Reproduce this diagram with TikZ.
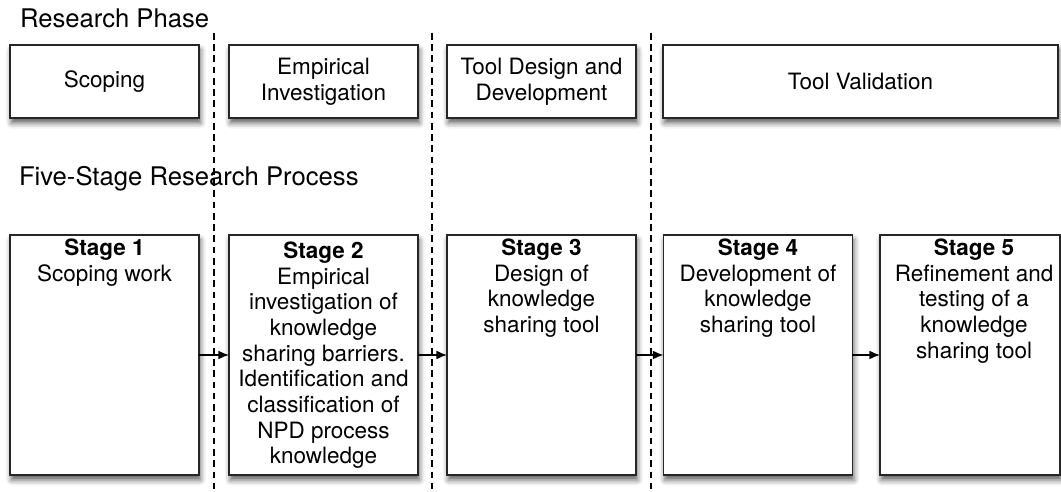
\documentclass[tikz,border=0pt]{standalone}
\usepackage{fontspec}
\setmainfont{TeX Gyre Heros}
\usetikzlibrary{shadows.blur,arrows.meta}

\begin{document}
\begin{tikzpicture}[x=0.02cm, y=-0.02cm,
  every node/.style={font=\fontsize{12.8}{14.6}\selectfont, outer sep=0pt},
  box/.style={draw=black!85, line width=0.9pt, fill=white, minimum width=3.78cm,
    blur shadow={shadow xshift=0.8pt, shadow yshift=-2.8pt, shadow blur radius=3.2pt, shadow opacity=65}},
  phasebox/.style={box, minimum height=1.46cm, align=center},
  stagebox/.style={box, minimum height=4.8cm},
  stagetext/.style={anchor=north, align=center, inner sep=0pt},
  heading/.style={anchor=base west, inner sep=0pt, font=\fontsize{14.6}{17}\selectfont},
  sep/.style={line width=0.9pt, dash pattern=on 3.8pt off 2.6pt},
  flow/.style={-{Latex[length=6pt,width=5pt]}, line width=0.8pt}]
\useasboundingbox (0,0) rectangle (1061,492);

\node[heading] (phasehead) at (20,28) {Research Phase};
\node[heading] (stagehead) at (19,186) {Five-Stage Research Process};

\node[phasebox] (scoping) at (104.5,81.5) {Scoping};
\node[phasebox] (empirical) at (323.5,81.5) {Empirical\\Investigation};
\node[phasebox] (design) at (541.5,81.5) {Tool Design and\\Development};
\node[phasebox, minimum width=7.9cm] (validation) at (860.5,81.5) {Tool Validation};

\node[stagebox] (s1) at (104.5,355) {};
\node[stagebox] (s2) at (323.5,355) {};
\node[stagebox] (s3) at (541.5,355) {};
\node[stagebox] (s4) at (758,355) {};
\node[stagebox, minimum width=3.6cm] (s5) at (970,355) {};

\node[stagetext] (t1) at (104.5,239) {\textbf{Stage 1}\\Scoping work};
\node[stagetext] (t2) at (323.5,242) {\textbf{Stage 2}\\Empirical\\investigation of\\knowledge\\sharing barriers.\\Identification and\\classification of\\NPD process\\knowledge};
\node[stagetext] (t3) at (541.5,239) {\textbf{Stage 3}\\Design of\\knowledge\\sharing tool};
\node[stagetext] (t4) at (758,239) {\textbf{Stage 4}\\Development of\\knowledge\\sharing tool};
\node[stagetext] (t5) at (974,239) {\textbf{Stage 5}\\Refinement and\\testing of a\\knowledge\\sharing tool};

\draw[sep] (214,33) -- (214,492);
\draw[sep] (432,33) -- (432,492);
\draw[sep] (651,33) -- (651,492);

\draw[flow] (s1) -- (s2);
\draw[flow] (s2) -- (s3);
\draw[flow] (s3) -- (s4);
\draw[flow] (s4) -- (s5);
\end{tikzpicture}
\end{document}
